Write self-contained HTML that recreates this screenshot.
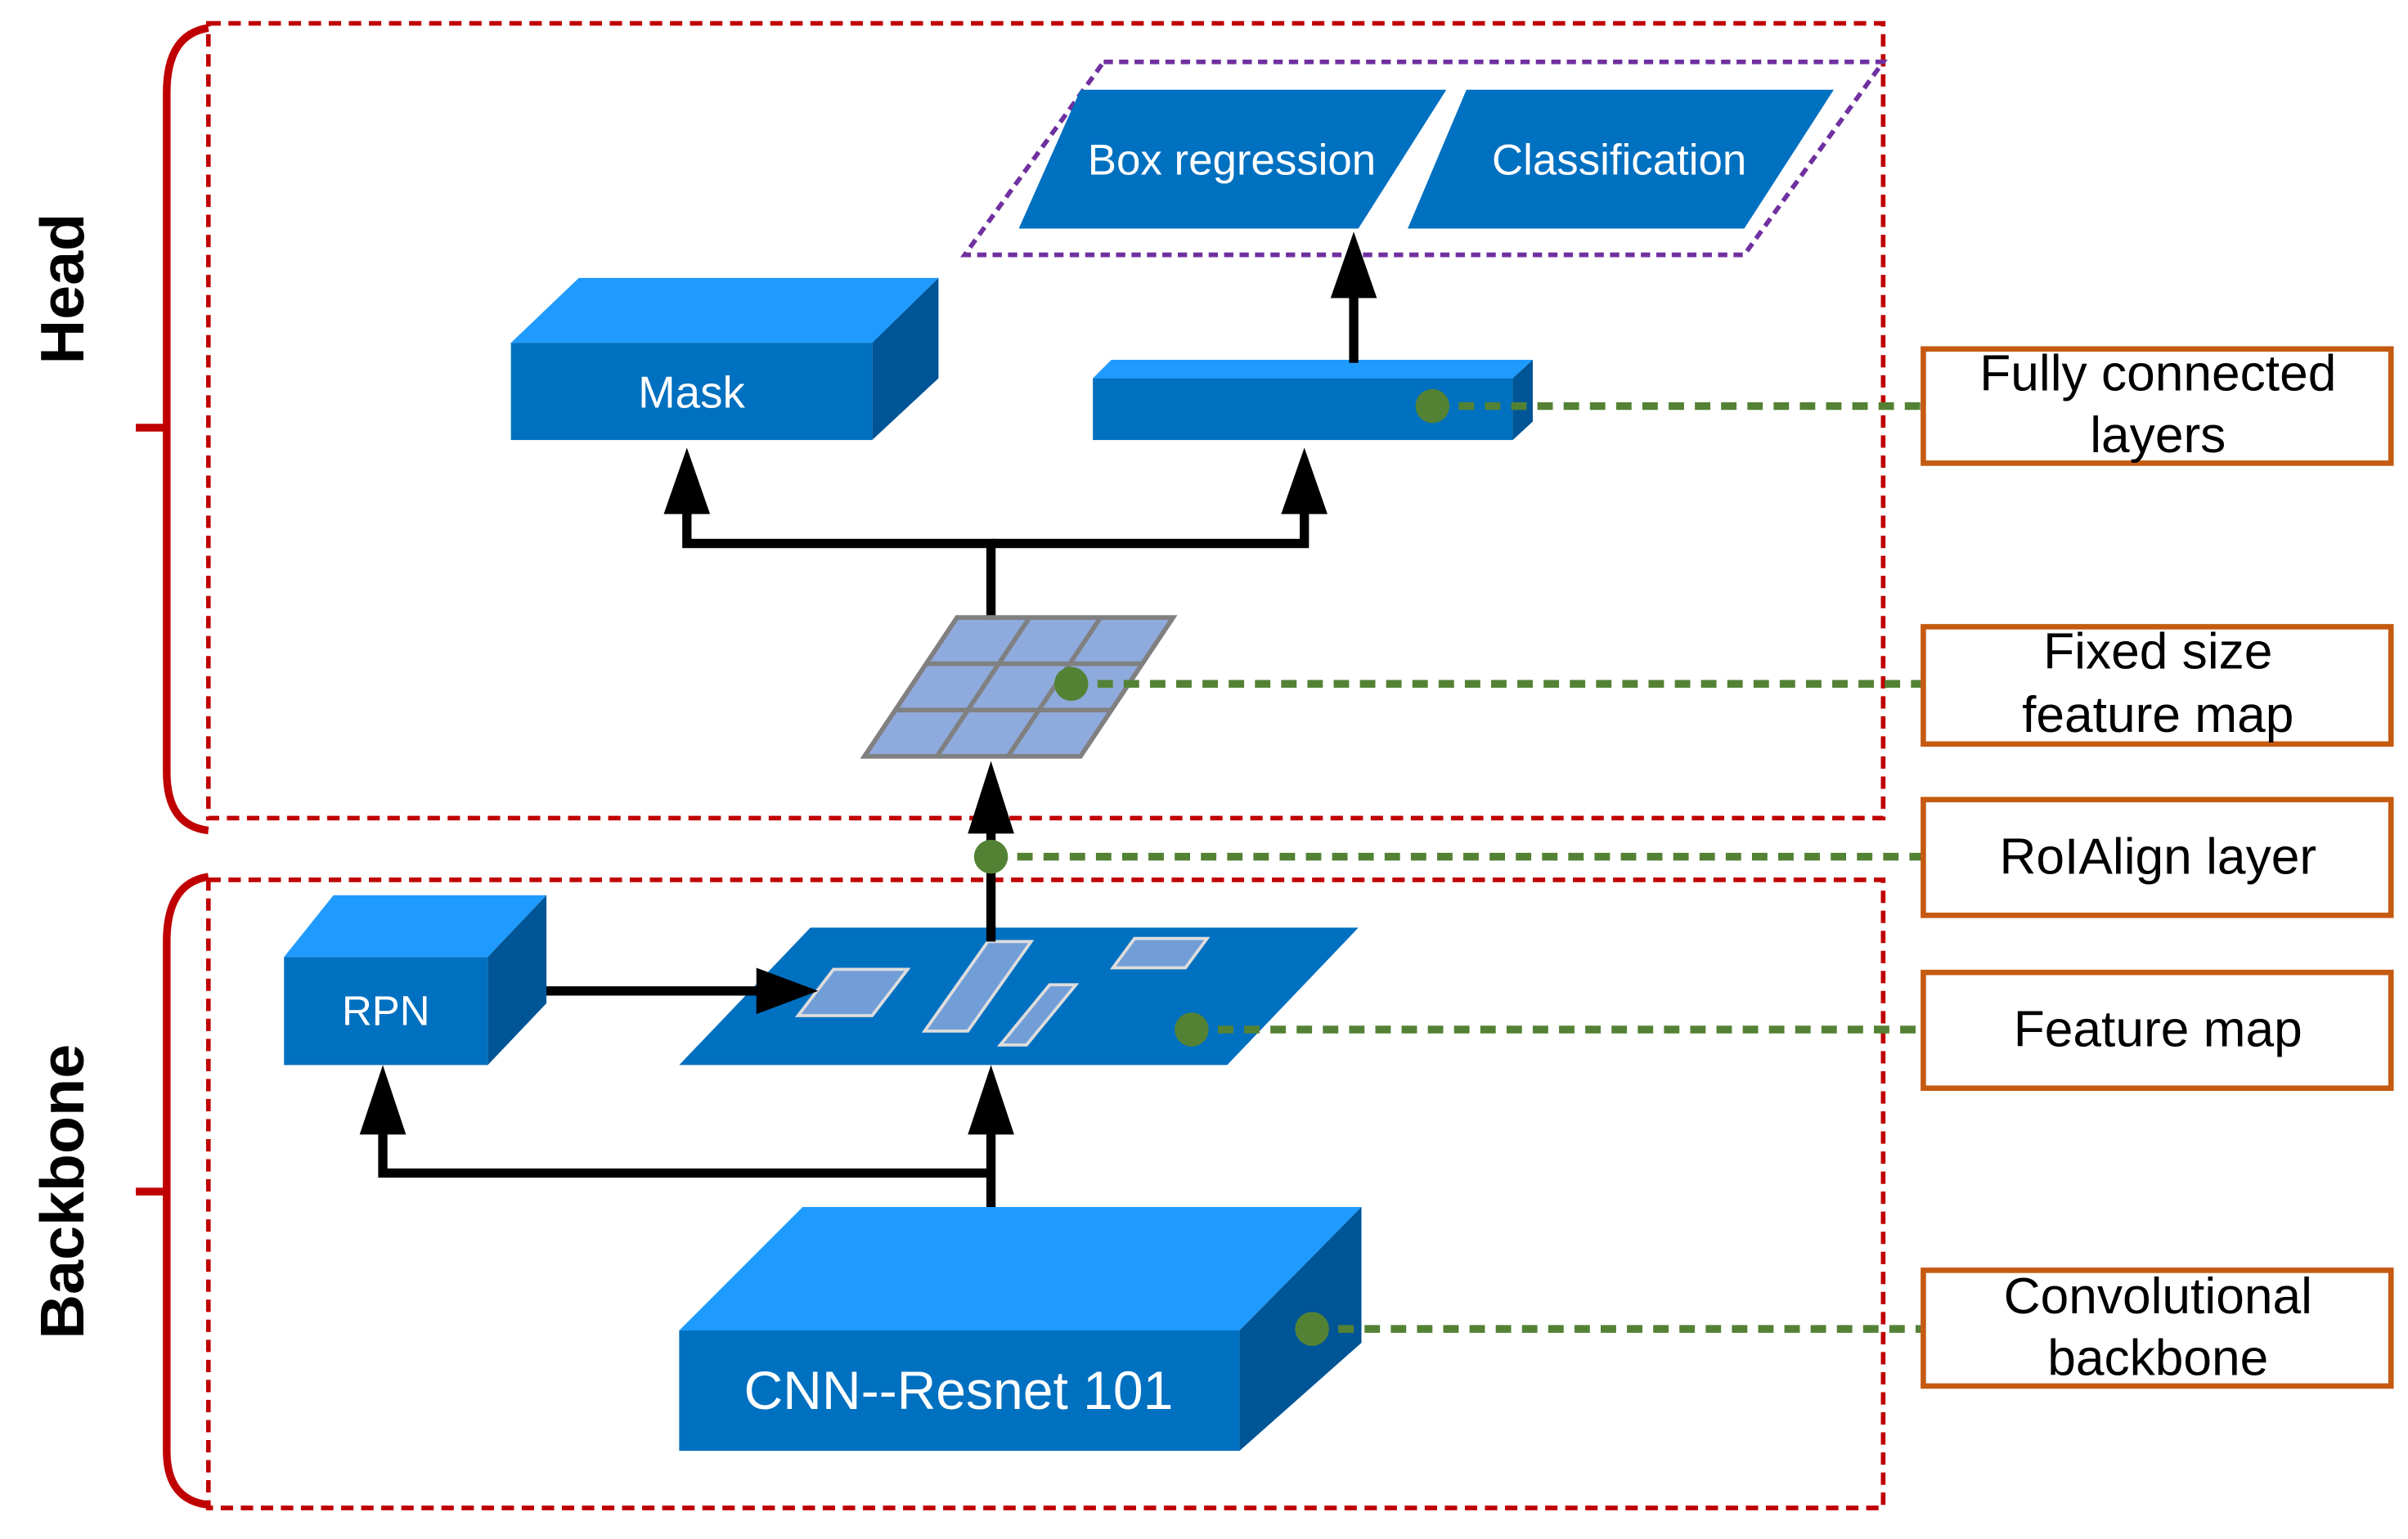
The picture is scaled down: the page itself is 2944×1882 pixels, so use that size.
<!DOCTYPE html>
<html><head><meta charset="utf-8"><style>html,body{margin:0;padding:0;background:#fff}svg{display:block}</style></head>
<body>
<svg width="2944" height="1882" viewBox="0 0 1560 997" xmlns="http://www.w3.org/2000/svg" font-family="Liberation Sans, sans-serif">
<!-- dashed boxes -->
<rect x="135" y="15" width="1085" height="515" fill="none" stroke="#c00000" stroke-width="3" stroke-dasharray="8,5"/>
<rect x="135" y="570" width="1085" height="407" fill="none" stroke="#c00000" stroke-width="3" stroke-dasharray="8,5"/>
<!-- braces -->
<path d="M135,18 Q108,22 108,60 L108,500 Q108,535 135,538" fill="none" stroke="#c00000" stroke-width="5"/>
<line x1="88" y1="277" x2="108" y2="277" stroke="#c00000" stroke-width="5"/>
<path d="M135,568 Q108,572 108,610 L108,940 Q108,972 135,975" fill="none" stroke="#c00000" stroke-width="5"/>
<line x1="88" y1="772" x2="108" y2="772" stroke="#c00000" stroke-width="5"/>
<text transform="translate(54,187) rotate(-90)" text-anchor="middle" font-size="40" font-weight="bold">Head</text>
<text transform="translate(54,772) rotate(-90)" text-anchor="middle" font-size="40" font-weight="bold">Backbone</text>
<!-- purple dashed -->
<polygon points="715,40 1220,40 1130,165 625,165" fill="none" stroke="#7030a0" stroke-width="3" stroke-dasharray="6,4"/>
<polygon points="700,58 937,58 880,148 660,148" fill="#0070c0"/>
<polygon points="950,58 1188,58 1130,148 912,148" fill="#0070c0"/>
<text x="798" y="113" text-anchor="middle" font-size="28" fill="#fff">Box regression</text>
<text x="1049" y="113" text-anchor="middle" font-size="28" fill="#fff">Classification</text>
<!-- Mask -->
<polygon points="331,222 375,180 608,180 565,222" fill="#1f9bff"/>
<polygon points="565,222 608,180 608,245 565,285" fill="#005596"/>
<rect x="331" y="222" width="234" height="63" fill="#0070c0"/>
<text x="448" y="264" text-anchor="middle" font-size="29" fill="#fff">Mask</text>
<!-- FC -->
<polygon points="708,245 720,233 993,233 980,245" fill="#1f9bff"/>
<polygon points="980,245 993,233 993,273 980,285" fill="#005596"/>
<rect x="708" y="245" width="272" height="40" fill="#0070c0"/>
<!-- arrows head -->
<g stroke="#000" stroke-width="6" fill="none">
<polyline points="642,400 642,352 445,352 445,325"/>
<polyline points="642,352 845,352 845,325"/>
<line x1="877" y1="235" x2="877" y2="185"/>
<line x1="642" y1="610" x2="642" y2="535"/>
<polyline points="642,785 642,725"/>
<polyline points="642,760 248,760 248,725"/>
</g>
<g fill="#000">
<polygon points="445,290 430,333 460,333"/>
<polygon points="845,290 830,333 860,333"/>
<polygon points="877,150 862,193 892,193"/>
<polygon points="642,493 627,540 657,540"/>
<polygon points="642,690 627,735 657,735"/>
<polygon points="248,690 233,735 263,735"/>
</g>
<!-- grid -->
<polygon points="620,400 760,400 700,490 560,490" fill="#8faadc" stroke="#808080" stroke-width="3"/>
<g stroke="#808080" stroke-width="3">
<line x1="600" y1="430" x2="740" y2="430"/><line x1="580" y1="460" x2="720" y2="460"/>
<line x1="667" y1="400" x2="607" y2="490"/><line x1="713" y1="400" x2="653" y2="490"/>
</g>
<!-- feature map -->
<polygon points="525,601 880,601 795,690 440,690" fill="#0070c0"/>
<g fill="#8faadc" fill-opacity="0.8" stroke="#ddd" stroke-width="2">
<polygon points="540,628 588,628 565,658 517,658"/>
<polygon points="640,610 668,610 627,668 599,668"/>
<polygon points="680,638 697,638 665,677 648,677"/>
<polygon points="735,608 782,608 768,627 721,627"/>
</g>
<line x1="642" y1="610" x2="642" y2="600" stroke="#000" stroke-width="6"/>
<line x1="327" y1="642" x2="500" y2="642" stroke="#000" stroke-width="6"/>
<polygon points="530,642 490,627 490,657" fill="#000"/>
<!-- RPN -->
<polygon points="184,620 216,580 354,580 316,620" fill="#1f9bff"/>
<polygon points="316,620 354,580 354,650 316,690" fill="#005596"/>
<rect x="184" y="620" width="132" height="70" fill="#0070c0"/>
<text x="250" y="664" text-anchor="middle" font-size="27" fill="#fff">RPN</text>
<!-- CNN -->
<polygon points="440,862 520,782 882,782 803,862" fill="#1f9bff"/>
<polygon points="803,862 882,782 882,870 803,940" fill="#005596"/>
<rect x="440" y="862" width="363" height="78" fill="#0070c0"/>
<text x="621" y="913" text-anchor="middle" font-size="35" fill="#fff">CNN--Resnet 101</text>
<!-- green dotted -->
<g stroke="#548235" stroke-width="5" stroke-dasharray="10,7">
<line x1="928" y1="263" x2="1248" y2="263"/>
<line x1="694" y1="443" x2="1248" y2="443"/>
<line x1="642" y1="555" x2="1248" y2="555"/>
<line x1="772" y1="667" x2="1248" y2="667"/>
<line x1="850" y1="861" x2="1248" y2="861"/>
</g>
<g fill="#548235">
<circle cx="928" cy="263" r="11"/><circle cx="694" cy="443" r="11"/><circle cx="642" cy="555" r="11"/><circle cx="772" cy="667" r="11"/><circle cx="850" cy="861" r="11"/>
</g>
<!-- orange boxes -->
<g fill="#fff" stroke="#c55a11" stroke-width="3.5">
<rect x="1246" y="226" width="303" height="74"/>
<rect x="1246" y="406" width="303" height="76"/>
<rect x="1246" y="518" width="303" height="75"/>
<rect x="1246" y="630" width="303" height="75"/>
<rect x="1246" y="823" width="303" height="75"/>
</g>
<g font-size="33" text-anchor="middle" fill="#000">
<text x="1398" y="253">Fully connected</text><text x="1398" y="293">layers</text>
<text x="1398" y="433">Fixed size</text><text x="1398" y="474">feature map</text>
<text x="1398" y="566">RoIAlign layer</text>
<text x="1398" y="678">Feature map</text>
<text x="1398" y="851">Convolutional</text><text x="1398" y="891">backbone</text>
</g>
</svg>
</body></html>
